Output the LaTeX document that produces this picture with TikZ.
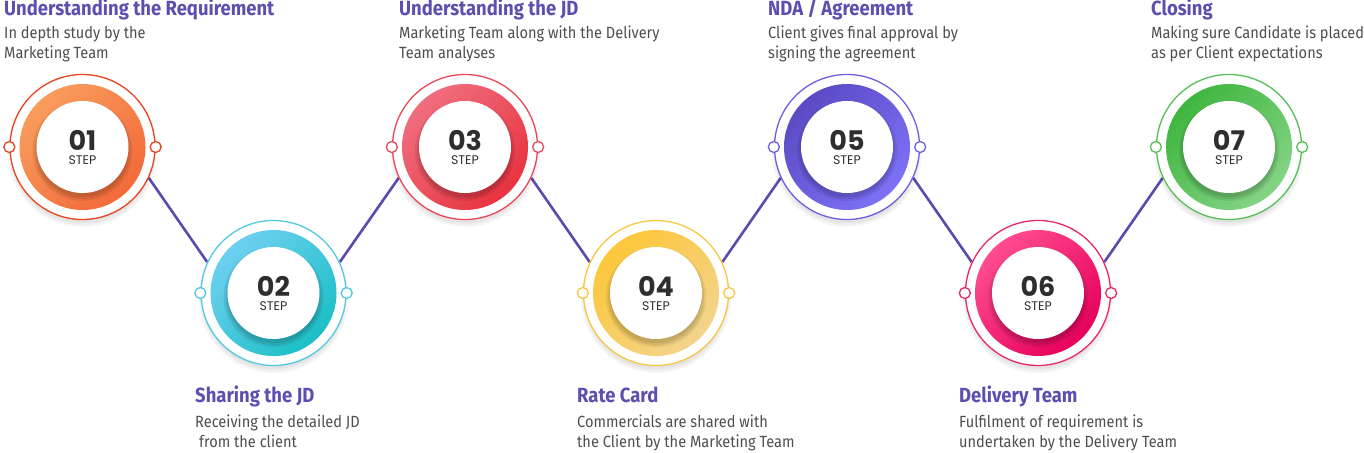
\documentclass[tikz,border=0pt]{standalone}
\usepackage{fontspec}
\setmainfont{Fira Sans}[FakeStretch=0.9]
\newfontfamily\numfont{Poppins}
\usetikzlibrary{backgrounds}
\definecolor{ttl}{HTML}{5C4FB0}
\definecolor{txt}{HTML}{4E4E4E}
\definecolor{lnk}{HTML}{5A4CAE}
\definecolor{l1}{HTML}{F89C5C}\definecolor{d1}{HTML}{F36A3A}\definecolor{e1}{HTML}{E8441F}
\definecolor{l2}{HTML}{6DD0F0}\definecolor{d2}{HTML}{1CBFC6}\definecolor{e2}{HTML}{52C9E3}
\definecolor{l3}{HTML}{EF6E7E}\definecolor{d3}{HTML}{E8333F}\definecolor{e3}{HTML}{EA4858}
\definecolor{l4}{HTML}{FDC73A}\definecolor{d4}{HTML}{F2D48C}\definecolor{e4}{HTML}{F7C744}
\definecolor{l5}{HTML}{5A4BC4}\definecolor{d5}{HTML}{7D71F7}\definecolor{e5}{HTML}{6C5FE3}
\definecolor{l6}{HTML}{FF4C90}\definecolor{d6}{HTML}{E6005A}\definecolor{e6}{HTML}{E9266D}
\definecolor{l7}{HTML}{3FB63F}\definecolor{d7}{HTML}{85D485}\definecolor{e7}{HTML}{55C055}
\tikzset{
  ring/.style={circle, minimum size=145pt, inner sep=0pt, draw=#1, line width=1.3pt, fill=white},
  knob/.style={circle, minimum size=11pt, inner sep=0pt, draw=#1, line width=1.3pt, fill=white},
  disc/.style={circle, minimum size=92pt, inner sep=0pt, fill=white},
  numblock/.style={font=\numfont\fontsize{12.5}{14}\selectfont, text=black!82, align=center, anchor=center, inner sep=0pt},
  ttlstyle/.style={font=\bfseries\fontsize{20.5}{22}\selectfont, text=ttl, anchor=base west, inner sep=0pt},
  body/.style={font=\fontsize{16.2}{20}\selectfont, text=txt, anchor=base west, inner sep=0pt},
  link/.style={draw=lnk, line width=2.6pt},
}
\begin{document}
\begin{tikzpicture}[x=1pt,y=-1pt]
\useasboundingbox (0,0) rectangle (1364,452);
\foreach \i/\x/\y in {1/82.5/147, 2/273.5/293, 3/465/147, 4/656/293, 5/847/147, 6/1038/293, 7/1229/147}{
  \foreach \r in {71,73,75}{\fill[black, opacity=0.035] (\x,\y+5) circle (\r pt);}
  \node[ring=e\i] (c\i) at (\x,\y) {};
  \shade[top color=l\i, bottom color=d\i, shading angle=45] (c\i.center) circle (63pt);
  \foreach \r in {46,48,50}{\fill[black, opacity=0.07] (\x,\y+4) circle (\r pt);}
  \node[disc] (d\i) at (c\i.center) {};
  \node[numblock] (n\i) at (\x,\y+0.5) {{\fontsize{27}{14}\selectfont\bfseries 0\i}\\STEP};
  \node[knob=e\i] (ka\i) at (c\i.west) {};
  \node[knob=e\i] (kb\i) at (c\i.east) {};
}
\begin{scope}[on background layer]
  \fill[white] (0,0) rectangle (1364,452);
  \draw[link] (c1.-25) -- (c2.155);
  \draw[link] (c2.25) -- (c3.-155);
  \draw[link] (c3.-25) -- (c4.155);
  \draw[link] (c4.25) -- (c5.-155);
  \draw[link] (c5.-25) -- (c6.155);
  \draw[link] (c6.25) -- (c7.-155);
\end{scope}
% top texts
\node[ttlstyle] (t1) at (4,16) {Understanding the Requirement};
\node[body] (b1a) at (4,38) {In depth study by the};
\node[body] (b1b) at (4,59) {Marketing Team};
\node[ttlstyle] (t3) at (399,16) {Understanding the JD};
\node[body] (b3a) at (399,38) {Marketing Team along with the Delivery};
\node[body] (b3b) at (399,59) {Team analyses};
\node[ttlstyle] (t5) at (768,16) {NDA / Agreement};
\node[body] (b5a) at (768,38) {Client gives final approval by};
\node[body] (b5b) at (768,59) {signing the agreement};
\node[ttlstyle] (t7) at (1151,16) {Closing};
\node[body] (b7a) at (1151,38) {Making sure Candidate is placed};
\node[body] (b7b) at (1151,59) {as per Client expectations};
% bottom texts
\node[ttlstyle] (t2) at (195,402) {Sharing the JD};
\node[body] (b2a) at (195,427) {Receiving the detailed JD};
\node[body] (b2b) at (199,447) {from the client};
\node[ttlstyle] (t4) at (577,402) {Rate Card};
\node[body] (b4a) at (577,427) {Commercials are shared with};
\node[body] (b4b) at (577,447) {the Client by the Marketing Team};
\node[ttlstyle] (t6) at (959,402) {Delivery Team};
\node[body] (b6a) at (959,427) {Fulfilment of requirement is};
\node[body] (b6b) at (959,447) {undertaken by the Delivery Team};
\end{tikzpicture}
\end{document}
